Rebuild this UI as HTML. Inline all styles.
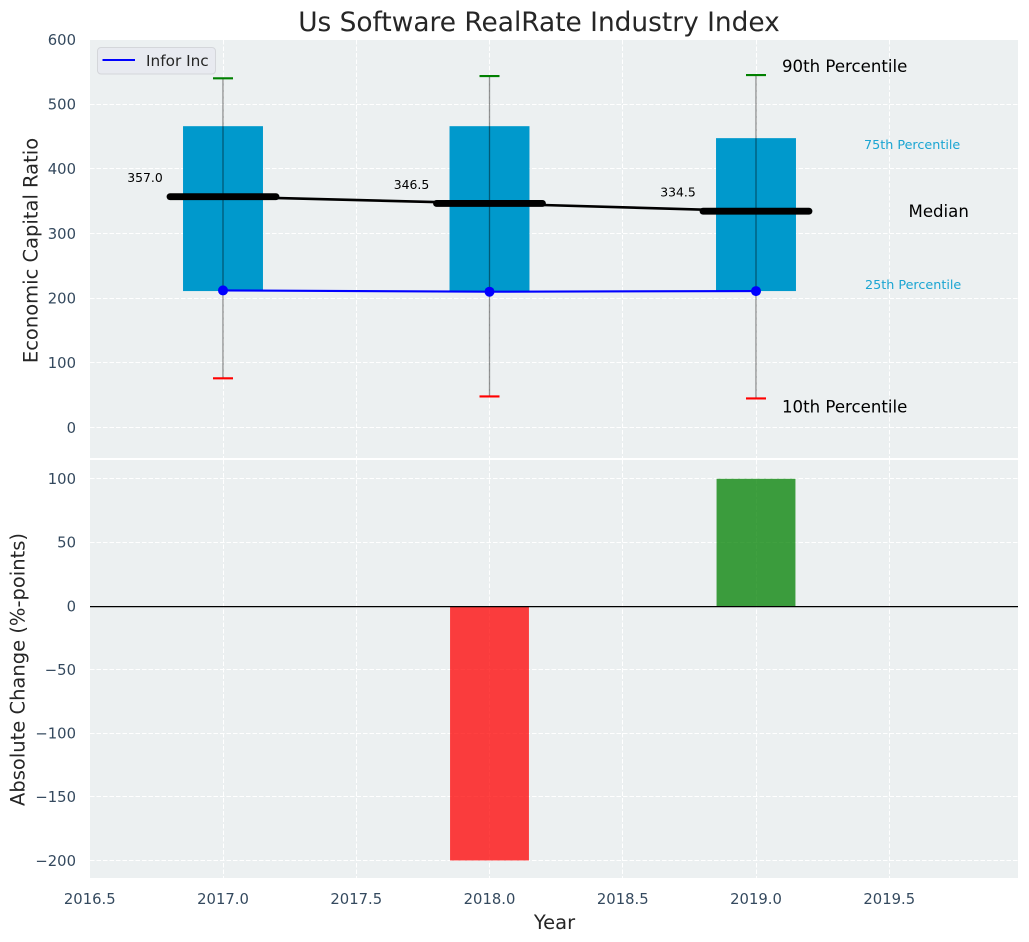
<!DOCTYPE html>
<html lang="en">
<head>
<meta charset="utf-8">
<title>Us Software RealRate Industry Index</title>
<style>
html,body{margin:0;padding:0;background:#fff;width:1029px;height:942px;overflow:hidden}
svg{display:block;font-family:"DejaVu Sans","Liberation Sans",sans-serif}
.tick{fill:#34495e;font-size:14.8px}
.axt{fill:#262626;font-size:19.5px}
</style>
</head>
<body>
<svg id="chart" width="1029" height="942" viewBox="0 0 1029 942">
  <rect x="90" y="40" width="928" height="418" fill="#ecf0f1"/>
  <rect x="90" y="460" width="928" height="418" fill="#ecf0f1"/>
  <g id="grid"></g>
  <g id="marks-bottom"></g>
  <g id="marks-top"></g>
  <g id="ticks"></g>
  <text x="539" y="31" text-anchor="middle" fill="#262626" font-size="26.4">Us Software RealRate Industry Index</text>
  <text transform="translate(37.5,250.5) rotate(-90)" text-anchor="middle" class="axt">Economic Capital Ratio</text>
  <text transform="translate(24.5,669.5) rotate(-90)" text-anchor="middle" class="axt">Absolute Change (%-points)</text>
  <text x="554.5" y="929" text-anchor="middle" class="axt">Year</text>
  <g>
    <rect x="97.5" y="47.5" width="118" height="26.5" rx="3.5" fill="#e8eaf0" stroke="#d4d6da"/>
    <line x1="102.5" y1="60" x2="135" y2="60" stroke="#0000ff" stroke-width="2"/>
    <text x="146" y="66" fill="#262626" font-size="15.3">Infor Inc</text>
  </g>
</svg>
<script>
var years = [2017, 2018, 2019];
var p90 = [540, 543.5, 545];
var p75 = [466, 466, 447.5];
var medians = [357.0, 346.5, 334.5];
var p25 = [211, 211, 211];
var p10 = [76, 48, 45];
var company = [212, 210, 211];
var changes = [0, -200, 100];
var medianLabels = ['357.0', '346.5', '334.5'];
var xTickValues = [2016.5, 2017, 2017.5, 2018, 2018.5, 2019, 2019.5];
var xTickLabels = ['2016.5', '2017.0', '2017.5', '2018.0', '2018.5', '2019.0', '2019.5'];
var topTickValues = [0, 100, 200, 300, 400, 500, 600];
var bottomTickValues = [100, 50, 0, -50, -100, -150, -200];

var NS = 'http://www.w3.org/2000/svg';
function xS(v) { return 223 + (v - 2017) * 266.5; }
function yT(v) { return 427.5 - v * 0.6466; }
function yB(v) { return 606 - v * 1.2723; }
function snap(p) { return Math.floor(p) + 0.5; }
function mk(parent, tag, attrs, text) {
  var el = document.createElementNS(NS, tag);
  for (var k in attrs) el.setAttribute(k, attrs[k]);
  if (text !== undefined) el.textContent = text;
  parent.appendChild(el);
  return el;
}
var grid = document.getElementById('grid');
var top_ = document.getElementById('marks-top');
var bottom = document.getElementById('marks-bottom');
var ticks = document.getElementById('ticks');
var el;

/* grid */
var gridStyle = { stroke: '#ffffff', 'stroke-width': 1, 'stroke-dasharray': '4.5 2' };
function gridLine(x1, y1, x2, y2) {
  var e = mk(grid, 'line', { x1: x1, y1: y1, x2: x2, y2: y2, stroke: gridStyle.stroke, 'stroke-width': gridStyle['stroke-width'], 'stroke-dasharray': gridStyle['stroke-dasharray'] });
  
  
}
xTickValues.forEach(function (v) {
  gridLine(snap(xS(v)), 40, snap(xS(v)), 458);
  gridLine(snap(xS(v)), 460, snap(xS(v)), 878);
});
topTickValues.forEach(function (v) {
  if (yT(v) > 41) gridLine(90, snap(yT(v)), 1018, snap(yT(v)));
});
bottomTickValues.forEach(function (v) {
  gridLine(90, snap(yB(v)), 1018, snap(yB(v)));
});

/* tick labels */
xTickValues.forEach(function (v, i) {
  el = mk(ticks, 'text', { x: xS(v), y: 904, 'text-anchor': 'middle', 'class': 'tick' }, xTickLabels[i]);
  
  
});
topTickValues.forEach(function (v) {
  el = mk(ticks, 'text', { x: 76, y: yT(v) + 5.3, 'text-anchor': 'end', 'class': 'tick' }, String(v));
  
  
});
bottomTickValues.forEach(function (v) {
  el = mk(ticks, 'text', { x: 76, y: yB(v) + 5.3, 'text-anchor': 'end', 'class': 'tick' }, String(v).replace('-', '\u2212'));
  
  
});

/* top panel: interquartile bars */
years.forEach(function (yr, i) {
  el = mk(top_, 'rect', { x: xS(yr - 0.15), y: yT(p75[i]), width: xS(yr + 0.15) - xS(yr - 0.15), height: yT(p25[i]) - yT(p75[i]), fill: '#0099cc' });
  
  
});

/* median connector */
el = mk(top_, 'polyline', { points: years.map(function (yr, i) { return xS(yr) + ',' + yT(medians[i]); }).join(' '), fill: 'none', stroke: '#000000', 'stroke-width': 2.6 });



years.forEach(function (yr, i) {
  /* whisker */
  el = mk(top_, 'line', { x1: xS(yr), y1: yT(p90[i]), x2: xS(yr), y2: yT(p10[i]), stroke: '#000000', 'stroke-opacity': 0.42, 'stroke-width': 1.3 });
  
  
  /* caps */
  el = mk(top_, 'line', { x1: xS(yr) - 10, y1: yT(p90[i]), x2: xS(yr) + 10, y2: yT(p90[i]), stroke: '#008000', 'stroke-width': 2.1 });
  
  
  el = mk(top_, 'line', { x1: xS(yr) - 10, y1: yT(p10[i]), x2: xS(yr) + 10, y2: yT(p10[i]), stroke: '#ff0000', 'stroke-width': 2.1 });
  
  
  /* median tick */
  el = mk(top_, 'line', { x1: xS(yr) - 53, y1: yT(medians[i]), x2: xS(yr) + 53, y2: yT(medians[i]), stroke: '#000000', 'stroke-width': 6.8, 'stroke-linecap': 'round' });
  
  
  /* median value */
  el = mk(top_, 'text', { x: xS(yr) - 78, y: yT(medians[i]) - 14.5, 'text-anchor': 'middle', 'font-size': 12.4, fill: '#000000' }, medianLabels[i]);
  
  
});

/* company line */
el = mk(top_, 'polyline', { points: years.map(function (yr, i) { return xS(yr) + ',' + yT(company[i]); }).join(' '), fill: 'none', stroke: '#0000ff', 'stroke-width': 2.1 });


years.forEach(function (yr, i) {
  el = mk(top_, 'circle', { cx: xS(yr), cy: yT(company[i]), r: 5, fill: '#0000ff' });
  
  
});

/* percentile annotations, anchored to the last year */
var last = years.length - 1;
var lx = xS(years[last]);
el = mk(top_, 'text', { x: lx + 26, y: yT(p90[last]) - 3.2, 'font-size': 16.6, fill: '#000000' }, '90th Percentile');


el = mk(top_, 'text', { x: lx + 26, y: yT(p10[last]) + 14, 'font-size': 16.6, fill: '#000000' }, '10th Percentile');


el = mk(top_, 'text', { x: lx + 152.5, y: yT(medians[last]) + 5.8, 'font-size': 16.6, fill: '#000000' }, 'Median');


el = mk(top_, 'text', { x: lx + 108, y: yT(p75[last]) + 11, 'font-size': 12.75, fill: '#1aa5d2' }, '75th Percentile');


el = mk(top_, 'text', { x: lx + 109, y: yT(p25[last]) - 2, 'font-size': 12.75, fill: '#1aa5d2' }, '25th Percentile');



/* bottom panel */
years.forEach(function (yr, i) {
  var v = changes[i];
  if (v === 0) return;
  var y0 = Math.min(yB(0), yB(v));
  el = mk(bottom, 'rect', { x: xS(yr - 0.148), y: y0, width: xS(yr + 0.148) - xS(yr - 0.148), height: Math.abs(yB(v) - yB(0)), fill: v > 0 ? '#008000' : '#ff0000', 'fill-opacity': 0.75 });
  
  
});
el = mk(bottom, 'line', { x1: 90, y1: snap(yB(0)) + 0.1, x2: 1018, y2: snap(yB(0)) + 0.1, stroke: '#000000', 'stroke-width': 1.3 });


</script>
</body>
</html>
